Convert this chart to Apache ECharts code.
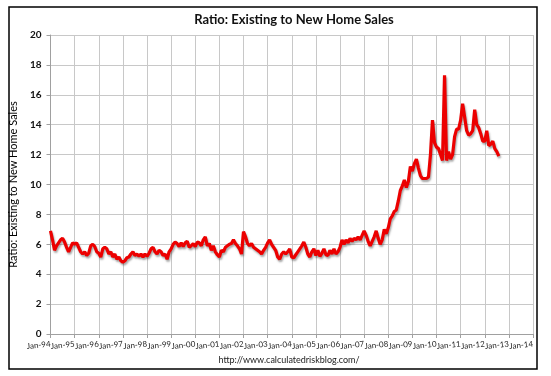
<!DOCTYPE html>
<html>
<head>
<meta charset="utf-8">
<script src="https://cdn.jsdelivr.net/npm/echarts@6/dist/echarts.min.js"></script>
<style>
  html, body { margin: 0; padding: 0; background: #fff; }
  #main { width: 551px; height: 376px; }
</style>
</head>
<body>
<div id="main"></div>
<script>
  // monthly ratio, one array per year (Jan..Dec)
  var r1994 = [6.9, 6.3, 5.6, 5.9, 6.1, 6.3, 6.4, 6.15, 5.8, 5.5, 5.8, 6.1];
  var r1995 = [6.0, 6.1, 5.8, 5.5, 5.35, 5.5, 5.25, 5.4, 5.9, 6.0, 5.85, 5.5];
  var r1996 = [5.4, 5.15, 5.7, 5.8, 5.7, 5.35, 5.5, 5.15, 5.35, 5.0, 5.15, 4.9];
  var r1997 = [4.8, 4.9, 5.1, 5.15, 5.35, 5.5, 5.25, 5.35, 5.2, 5.35, 5.15, 5.35];
  var r1998 = [5.2, 5.4, 5.7, 5.8, 5.5, 5.35, 5.6, 5.5, 5.25, 5.35, 5.0, 5.5];
  var r1999 = [5.7, 6.0, 6.15, 6.05, 5.85, 6.1, 5.85, 6.1, 6.2, 5.8, 5.9, 6.05];
  var r2000 = [5.85, 6.15, 6.1, 5.9, 6.3, 6.5, 5.9, 6.05, 5.6, 5.9, 5.5, 5.3];
  var r2001 = [5.15, 5.6, 5.5, 5.8, 5.9, 6.0, 6.05, 6.3, 6.05, 5.9, 5.7, 5.35];
  var r2002 = [6.85, 6.5, 6.05, 5.9, 6.05, 5.8, 5.7, 5.6, 5.5, 5.35, 5.6, 5.8];
  var r2003 = [6.1, 6.3, 6.0, 5.8, 5.6, 5.15, 5.0, 5.35, 5.5, 5.35, 5.5, 5.7];
  var r2004 = [5.15, 5.1, 5.3, 5.5, 5.7, 5.9, 6.15, 5.8, 5.35, 5.15, 5.5, 5.7];
  var r2005 = [5.25, 5.6, 5.2, 5.4, 5.7, 5.3, 5.25, 5.6, 5.35, 5.7, 5.35, 5.5];
  var r2006 = [5.8, 6.3, 6.0, 6.3, 6.1, 6.4, 6.2, 6.4, 6.3, 6.5, 6.3, 6.6];
  var r2007 = [6.9, 6.6, 6.2, 5.9, 6.2, 6.5, 6.9, 6.4, 6.0, 6.3, 7.0, 6.7];
  var r2008 = [7.1, 7.7, 7.9, 8.2, 8.3, 8.9, 9.6, 9.9, 10.3, 9.8, 10.2, 11.2];
  var r2009 = [10.9, 11.4, 11.7, 11.1, 10.6, 10.4, 10.4, 10.4, 10.5, 12.0, 14.3, 12.8];
  var r2010 = [12.5, 12.4, 12.0, 11.6, 17.3, 11.6, 12.2, 11.7, 12.0, 13.2, 13.7, 13.7];
  var r2011 = [14.3, 15.4, 14.5, 13.6, 13.3, 13.4, 13.6, 15.0, 14.0, 13.8, 13.4, 12.9];
  var r2012 = [12.9, 13.6, 12.6, 12.7, 12.9, 12.4, 12.2, 11.9];

  var years = ['94', '95', '96', '97', '98', '99', '00', '01', '02', '03',
               '04', '05', '06', '07', '08', '09', '10', '11', '12', '13', '14'];
  var months = ['Jan', 'Feb', 'Mar', 'Apr', 'May', 'Jun',
                'Jul', 'Aug', 'Sep', 'Oct', 'Nov', 'Dec'];

  var categories = [];
  years.forEach(function (y, i) {
    months.forEach(function (m, j) {
      if (i < years.length - 1 || j === 0) categories.push(m + '-' + y);
    });
  });

  var ratio = [].concat(r1994, r1995, r1996, r1997, r1998, r1999, r2000,
    r2001, r2002, r2003, r2004, r2005, r2006, r2007, r2008, r2009,
    r2010, r2011, r2012);

  function everyJan(index) { return index % 12 === 0; }

  var myChart = echarts.init(document.getElementById('main'));

  var option = {
    backgroundColor: '#fff',
    animation: false,
    textStyle: { fontFamily: 'Lato' },
    title: {
      text: 'Ratio: Existing to New Home Sales',
      left: 289,
      textAlign: 'center',
      top: 8,
      textStyle: { fontFamily: 'Lato', fontSize: 13, fontWeight: 'bold', color: '#111' }
    },
    graphic: [
      {
        type: 'rect',
        shape: { x: 9, y: 7, width: 528, height: 362 },
        style: { fill: 'none', stroke: '#000', lineWidth: 1.5 },
        silent: true
      },
      {
        type: 'text',
        x: 289,
        y: 360,
        silent: true,
        style: {
          text: 'http://www.calculatedriskblog.com/',
          align: 'center',
          verticalAlign: 'middle',
          fontFamily: 'Lato',
          fontSize: 9,
          fill: '#222'
        }
      }
    ],
    grid: { left: 45, right: 18, top: 35, bottom: 42 },
    xAxis: {
      type: 'category',
      data: categories,
      boundaryGap: false,
      axisLine: { lineStyle: { color: '#a0a0a0' } },
      axisTick: { show: true, interval: everyJan, length: 4, lineStyle: { color: '#a0a0a0' } },
      splitLine: { show: true, interval: everyJan, lineStyle: { color: '#c8c8c8' } },
      axisLabel: {
        interval: everyJan,
        rotate: 6,
        fontSize: 8,
        color: '#222',
        margin: 10,
        showMinLabel: true,
        showMaxLabel: true,
        hideOverlap: false
      }
    },
    yAxis: {
      type: 'value',
      min: 0,
      max: 20,
      interval: 2,
      name: 'Ratio: Existing to New Home Sales',
      nameLocation: 'middle',
      nameGap: 27,
      nameTextStyle: { fontSize: 11, color: '#000' },
      axisLine: { show: true, lineStyle: { color: '#a0a0a0' } },
      axisTick: { show: true, length: 4, lineStyle: { color: '#a0a0a0' } },
      splitLine: { lineStyle: { color: '#c8c8c8' } },
      axisLabel: { fontSize: 10, fontWeight: 'bold', color: '#111', margin: 9 }
    },
    series: [
      {
        name: 'Ratio',
        type: 'line',
        data: ratio,
        showSymbol: false,
        lineStyle: {
          color: '#ec0000',
          width: 3.2,
          shadowColor: 'rgba(0,0,0,0.35)',
          shadowBlur: 2,
          shadowOffsetX: 1,
          shadowOffsetY: 2
        }
      }
    ]
  };

  myChart.setOption(option);
</script>
</body>
</html>
